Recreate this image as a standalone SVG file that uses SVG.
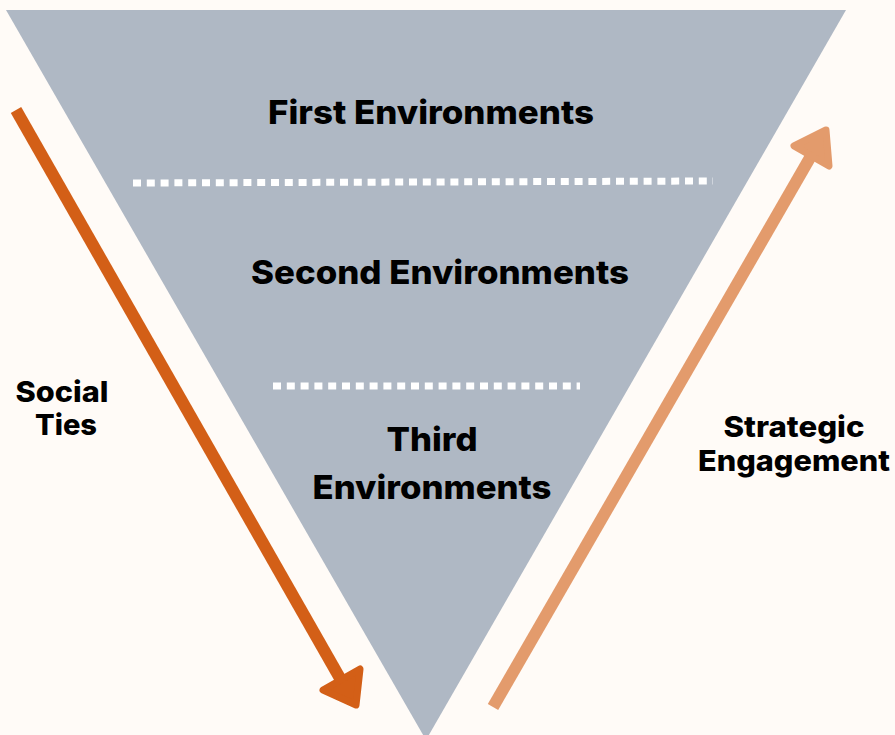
<svg xmlns="http://www.w3.org/2000/svg" width="895" height="735" viewBox="0 0 895 735">
  <style>
    .lbl { font-family: Inter, "Liberation Sans", Arial, sans-serif; font-weight: 800; fill: #000000; text-anchor: middle; }
    .tier { font-size: 33px; }
    .side { font-size: 29px; }
    .divider { stroke: #FFFFFF; stroke-width: 7; stroke-dasharray: 8 5.8; fill: none; }
    .shaft { stroke-width: 12; fill: none; }
    .head { stroke-width: 7; stroke-linejoin: round; }
    .dark { stroke: #D35F17; fill: #D35F17; }
    .light { stroke: #E39B6C; fill: #E39B6C; }
  </style>
  <rect width="895" height="735" fill="#FFFBF7"/>

  <!-- inverted funnel -->
  <g id="funnel">
    <polygon points="6,10 846,10 426,740" fill="#AFB8C4"/>
    <line class="divider" x1="133" y1="183" x2="713" y2="181"/>
    <line class="divider" x1="273" y1="386" x2="580" y2="386"/>
  </g>

  <g id="first-environments">
    <text class="lbl tier" x="431" y="124" textLength="326" lengthAdjust="spacingAndGlyphs">First Environments</text>
  </g>
  <g id="second-environments">
    <text class="lbl tier" x="440" y="284" textLength="378" lengthAdjust="spacingAndGlyphs">Second Environments</text>
  </g>
  <g id="third-environments">
    <text class="lbl tier" x="432" y="451" textLength="91" lengthAdjust="spacingAndGlyphs">Third</text>
    <text class="lbl tier" x="432" y="499" textLength="239" lengthAdjust="spacingAndGlyphs">Environments</text>
  </g>

  <!-- side arrows -->
  <g id="connectors">
    <line class="shaft dark" x1="16" y1="110" x2="341" y2="680"/>
    <polygon class="head dark" points="323,690 360,669 356,705"/>
    <line class="shaft light" x1="493" y1="707" x2="811" y2="156"/>
    <polygon class="head light" points="794,146 829,166 826,130"/>
  </g>

  <g id="social-ties">
    <text class="lbl side" x="62" y="402" textLength="93" lengthAdjust="spacingAndGlyphs">Social</text>
    <text class="lbl side" x="66" y="435" textLength="62" lengthAdjust="spacingAndGlyphs">Ties</text>
  </g>
  <g id="strategic-engagement">
    <text class="lbl side" x="794" y="437" textLength="141" lengthAdjust="spacingAndGlyphs">Strategic</text>
    <text class="lbl side" x="794" y="471" textLength="192" lengthAdjust="spacingAndGlyphs">Engagement</text>
  </g>
</svg>
